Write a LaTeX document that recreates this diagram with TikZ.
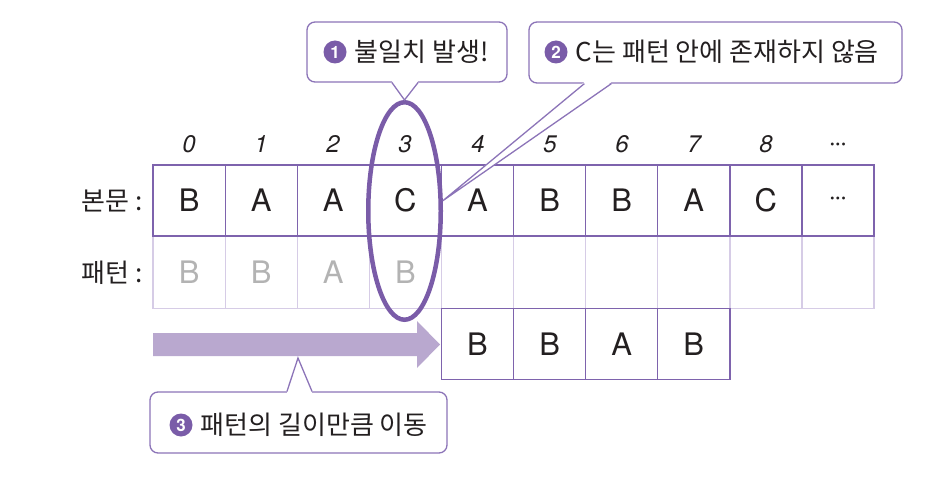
\documentclass[tikz,border=0pt]{standalone}
\usepackage{fontspec}
\setmainfont{TeX Gyre Heros}
\newfontfamily\kr{Noto Sans CJK KR}
\usetikzlibrary{positioning,shapes.geometric,calc}

\definecolor{grid}{HTML}{7E63AD}
\definecolor{gridlight}{HTML}{D6CCE6}
\definecolor{ring}{HTML}{7A5CA8}
\definecolor{move}{HTML}{B9A8CF}
\definecolor{ink}{HTML}{231F20}
\definecolor{pale}{HTML}{B3B3B3}
\definecolor{tagc}{HTML}{7A5CA8}
\definecolor{callline}{HTML}{8C74B8}

\begin{document}
\begin{tikzpicture}[x=1pt,y=-1pt,
    callout/.style={draw=callline,line width=1.3pt,rounded corners=8pt,fill=white},
    tag/.style={circle,fill=tagc,text=white,inner sep=0pt,minimum size=23pt,
      font=\bfseries\fontsize{17}{17}\selectfont},
    say/.style={font=\kr\fontsize{26}{26}\selectfont,text=ink,inner sep=0pt}]

        \useasboundingbox (0,0) rectangle (952,486);

        % index
        \begin{scope}[every node/.style={text=ink,font=\itshape\fontsize{24}{24}\selectfont}]
          \node (i0) at (189,144) {0};
          \node (i1) at (261,144) {1};
          \node (i2) at (333,144) {2};
          \node (i3) at (405,144) {3};
          \node (i4) at (478,144) {4};
          \node (i5) at (550,144) {5};
          \node (i6) at (622,144) {6};
          \node (i7) at (694,144) {7};
          \node (i8) at (766,144) {8};
          \node (i9) at (838,146) {\upshape\bfseries\fontsize{20}{20}\selectfont ···};
        \end{scope}

        % pattern row
        \begin{scope}[every node/.style={draw=gridlight,line width=1.3pt,minimum width=72.1pt,
            minimum height=72.5pt,inner sep=0pt,text=pale,font=\fontsize{31}{31}\selectfont}]
          \node (p0) at (189.1,272.5) {B};
          \node (p1) at (261.2,272.5) {B};
          \node (p2) at (333.3,272.5) {A};
          \node (p3) at (405.4,272.5) {B};
          \node (p4) at (477.5,272.5) {};
          \node (p5) at (549.6,272.5) {};
          \node (p6) at (621.7,272.5) {};
          \node (p7) at (693.8,272.5) {};
          \node (p8) at (765.9,272.5) {};
          \node (p9) at (838.0,272.5) {};
        \end{scope}

        % text row and shifted pattern
        \begin{scope}[every node/.style={draw=grid,line width=1.3pt,minimum width=72.1pt,
            minimum height=71pt,inner sep=0pt,text=ink,font=\fontsize{31}{31}\selectfont}]
          \node (t0) at (189.1,200.5) {B};
          \node (t1) at (261.2,200.5) {A};
          \node (t2) at (333.3,200.5) {A};
          \node (t3) at (405.4,200.5) {C};
          \node (t4) at (477.5,200.5) {A};
          \node (t5) at (549.6,200.5) {B};
          \node (t6) at (621.7,200.5) {B};
          \node (t7) at (693.8,200.5) {A};
          \node (t8) at (765.9,200.5) {C};
          \node (t9) at (838.0,200.5) {\bfseries\fontsize{20}{20}\selectfont ···};

          \node (s4) at (477.5,344) {B};
          \node (s5) at (549.6,344) {B};
          \node (s6) at (621.7,344) {A};
          \node (s7) at (693.8,344) {B};
        \end{scope}

        \node[say,anchor=east] (body) at (143,201) {본문 :};
        \node[say,anchor=east] (pat) at (143,273) {패턴 :};

        % shift arrow
        \fill[move] (153,333) -- (417,333) -- (417,321) -- (440,344.5)
          -- (417,368) -- (417,356) -- (153,356) -- cycle;

        \node[draw=ring,line width=4.5pt,ellipse,minimum width=72.5pt,
          minimum height=217.5pt,inner sep=0pt] (miss) at (404.5,211) {};

        % callouts
        \node[callout,minimum width=200pt,minimum height=60pt] (c1) at (407,52) {};
        \node[callout,minimum width=373pt,minimum height=61pt] (c2) at (715.5,52.5) {};
        \node[callout,minimum width=297pt,minimum height=61pt] (c3) at (298.5,422.5) {};
        \coordinate (hint) at (298,358);

        \begin{scope}[every path/.style={draw=callline,line width=1.3pt}]
          \fill[white,draw=none] ($(c1.south)+(-15,-1.5)$) -- (miss.north) -- ($(c1.south)+(11,-1.5)$) -- cycle;
          \draw ($(c1.south)+(-15,0)$) -- (miss.north) -- ($(c1.south)+(11,0)$);
          \fill[white,draw=none] ($(c2.south west)+(56,-1.5)$) -- (miss.15) -- ($(c2.south west)+(83,-1.5)$) -- cycle;
          \draw ($(c2.south west)+(56,0)$) -- (miss.15) -- ($(c2.south west)+(83,0)$);
          \fill[white,draw=none] ($(c3.north)+(-11.5,1.5)$) -- (hint) -- ($(c3.north)+(13.5,1.5)$) -- cycle;
          \draw ($(c3.north)+(-11.5,0)$) -- (hint) -- ($(c3.north)+(13.5,0)$);
        \end{scope}

        \node[tag] (b1) at (335,52) {1};
        \node[tag] (b2) at (556,52) {2};
        \node[tag] (b3) at (181,425) {3};
        \node[say,right=8pt of b1] (m1) {불일치 발생!};
        \node[say,right=8pt of b2] (m2) {C는 패턴 안에 존재하지 않음};
        \node[say,right=8pt of b3] (m3) {패턴의 길이만큼 이동};

      \end{tikzpicture}
\end{document}
